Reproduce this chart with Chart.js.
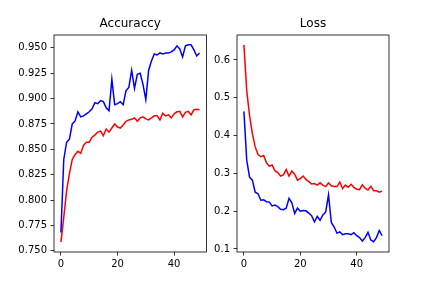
<!DOCTYPE html>
<html>
<head>
<meta charset="utf-8">
<script src="https://cdn.jsdelivr.net/npm/chart.js@4"></script>
<style>
  body { margin: 0; background: #fff; }
  #wrap { position: relative; width: 432px; height: 288px; overflow: hidden; }
  canvas { position: absolute; top: 0; }
</style>
</head>
<body>
<div id="wrap">
  <canvas id="accChart" width="216" height="288" style="left:0px"></canvas>
  <canvas id="lossChart" width="232" height="288" style="left:200px"></canvas>
</div>
<script>
// training history, 50 epochs
var epochs = [];
for (var i = 0; i < 50; i++) epochs.push(i);

var trainAcc = [0.768, 0.840, 0.857, 0.860, 0.875, 0.878, 0.887, 0.882, 0.883, 0.885,
  0.887, 0.890, 0.896, 0.895, 0.898, 0.897, 0.891, 0.888, 0.919, 0.894,
  0.895, 0.897, 0.894, 0.908, 0.911, 0.928, 0.910, 0.924, 0.925, 0.914,
  0.899, 0.928, 0.937, 0.944, 0.943, 0.945, 0.944, 0.945, 0.945, 0.946,
  0.948, 0.952, 0.949, 0.941, 0.952, 0.953, 0.953, 0.948, 0.942, 0.945];
var valAcc = [0.7585, 0.783, 0.809, 0.826, 0.840, 0.845, 0.848, 0.846, 0.854, 0.857,
  0.857, 0.862, 0.864, 0.867, 0.868, 0.8635, 0.870, 0.867, 0.871, 0.875,
  0.872, 0.871, 0.874, 0.8777, 0.879, 0.8796, 0.881, 0.8777, 0.881, 0.882,
  0.880, 0.879, 0.881, 0.883, 0.883, 0.879, 0.8855, 0.883, 0.884, 0.881,
  0.885, 0.887, 0.8875, 0.882, 0.8865, 0.8875, 0.884, 0.889, 0.8895, 0.889];
var trainLoss = [0.464, 0.335, 0.290, 0.282, 0.250, 0.246, 0.229, 0.230, 0.225, 0.224,
  0.214, 0.216, 0.212, 0.205, 0.204, 0.208, 0.234, 0.222, 0.194, 0.208,
  0.200, 0.202, 0.201, 0.195, 0.188, 0.172, 0.186, 0.176, 0.190, 0.198,
  0.243, 0.170, 0.158, 0.142, 0.145, 0.138, 0.140, 0.140, 0.138, 0.143,
  0.135, 0.130, 0.121, 0.130, 0.144, 0.124, 0.119, 0.130, 0.149, 0.135];
var valLoss = [0.640, 0.519, 0.453, 0.405, 0.370, 0.350, 0.344, 0.347, 0.328, 0.319,
  0.322, 0.307, 0.302, 0.293, 0.296, 0.310, 0.293, 0.306, 0.298, 0.282,
  0.286, 0.293, 0.284, 0.278, 0.272, 0.273, 0.269, 0.275, 0.269, 0.265,
  0.275, 0.267, 0.265, 0.265, 0.277, 0.260, 0.269, 0.263, 0.271, 0.263,
  0.258, 0.257, 0.270, 0.261, 0.256, 0.266, 0.254, 0.254, 0.250, 0.253];

var xTicks = [0, 20, 40];
var accTicks = [0.750, 0.775, 0.800, 0.825, 0.850, 0.875, 0.900, 0.925, 0.950];
var lossTicks = [0.1, 0.2, 0.3, 0.4, 0.5, 0.6];

var FONT = 'DejaVu Sans';

function pts(vals) {
  return vals.map(function (v, i) { return { x: epochs[i], y: v }; });
}

// box around the plot area like matplotlib spines
var frame = {
  id: 'frame',
  afterDraw: function (chart) {
    var a = chart.chartArea, c = chart.ctx;
    c.save();
    c.strokeStyle = '#000';
    c.lineWidth = 0.8;
    c.strokeRect(a.left, a.top, a.right - a.left, a.bottom - a.top);
    c.restore();
  }
};

function makeChart(id, title, blue, red, ymin, ymax, yTicks, digits, yWidth, padRight) {
  return new Chart(document.getElementById(id), {
    type: 'line',
    data: {
      datasets: [
        { data: pts(blue), borderColor: '#0000ff', borderWidth: 1.5, pointRadius: 0, tension: 0, fill: false },
        { data: pts(red), borderColor: '#ff0000', borderWidth: 1.5, pointRadius: 0, tension: 0, fill: false }
      ]
    },
    options: {
      responsive: false,
      animation: false,
      layout: { padding: { left: 0, right: padRight, top: 0, bottom: 0 } },
      plugins: {
        legend: { display: false },
        tooltip: { enabled: false },
        title: {
          display: true, text: title, color: '#000', fullSize: false,
          font: { family: FONT, size: 12, weight: 'normal' },
          padding: { top: 17, bottom: 3.6 }
        }
      },
      scales: {
        x: {
          type: 'linear', min: -2.45, max: 51.45,
          afterBuildTicks: function (s) { s.ticks = xTicks.map(function (v) { return { value: v }; }); },
          afterFit: function (s) { s.height = 36; },
          border: { display: false },
          grid: { display: true, drawOnChartArea: false, drawTicks: true, tickLength: 3.5, color: '#000', lineWidth: 0.8 },
          ticks: { color: '#000', padding: 3, maxRotation: 0, font: { family: FONT, size: 10 },
            callback: function (v) { return String(v); } }
        },
        y: {
          min: ymin, max: ymax,
          afterBuildTicks: function (s) { s.ticks = yTicks.map(function (v) { return { value: v }; }); },
          afterFit: function (s) { s.width = yWidth; },
          border: { display: false },
          grid: { display: true, drawOnChartArea: false, drawTicks: true, tickLength: 3.5, color: '#000', lineWidth: 0.8 },
          ticks: { color: '#000', padding: 3.5, font: { family: FONT, size: 10 },
            callback: function (v) { return Number(v).toFixed(digits); } }
        }
      }
    },
    plugins: [frame]
  });
}

makeChart('accChart', 'Accuraccy', trainAcc, valAcc, 0.7488, 0.9627, accTicks, 3, 54, 9.5);
makeChart('lossChart', 'Loss', trainLoss, valLoss, 0.092, 0.666, lossTicks, 1, 37, 43);
</script>
</body>
</html>
